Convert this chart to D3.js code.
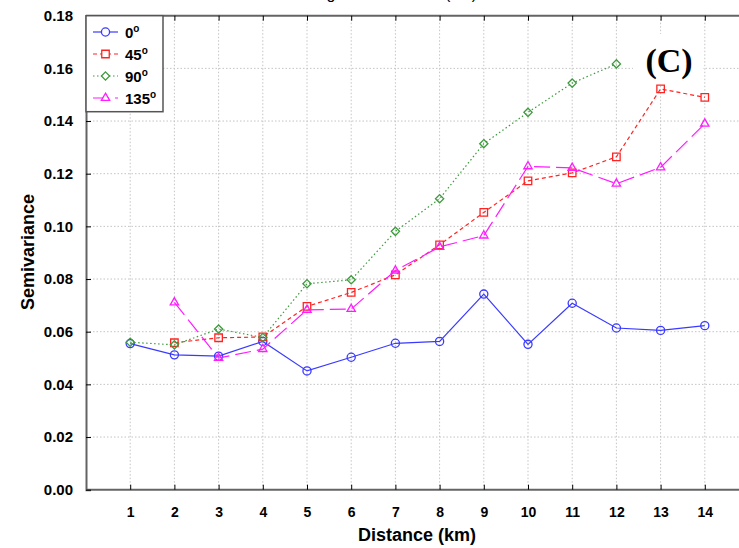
<!DOCTYPE html>
<html>
<head>
<meta charset="utf-8">
<script src="https://d3js.org/d3.v7.min.js"></script>
<style>
  body { margin: 0; background: #fff; }
  svg { display: block; font-family: "Liberation Sans", Arial, sans-serif; }
</style>
</head>
<body>
<div class="canva"></div>
<script>
// lag distances and directional semivariance values
const distance = [1, 2, 3, 4, 5, 6, 7, 8, 9, 10, 11, 12, 13, 14];
const dir0   = [0.0555, 0.0512, 0.0507, 0.0563, 0.0451, 0.0503, 0.0556, 0.0563, 0.0743, 0.0552, 0.0708, 0.0614, 0.0605, 0.0623];
const dir45  = [null, 0.0558, 0.0577, 0.0580, 0.0696, 0.0749, 0.0816, 0.0930, 0.1053, 0.1173, 0.1203, 0.1264, 0.1522, 0.1490];
const dir90  = [0.0560, 0.0550, 0.0610, 0.0578, 0.0782, 0.0797, 0.0981, 0.1105, 0.1314, 0.1433, 0.1544, 0.1617, null, null];
const dir135 = [null, 0.0711, 0.0500, 0.0534, 0.0683, 0.0686, 0.0832, 0.0922, 0.0965, 0.1228, 0.1222, 0.1162, 0.1224, 0.1390];
const seriesNames = ["0", "45", "90", "135"];
const yTicks = [0, 0.02, 0.04, 0.06, 0.08, 0.10, 0.12, 0.14, 0.16, 0.18];

const W = 739, H = 548;
const svg = d3.select(".canva").append("svg")
  .attr("width", W)
  .attr("height", H);

// plot area runs past the right edge of the picture (x domain 0..15)
const x = d3.scaleLinear().domain([0, 15]).range([86, 749]);
const y = d3.scaleLinear().domain([0, 0.18]).range([489.7, 15.7]);

// title, almost entirely cut off at the top (only descenders show)
svg.append("text")
  .attr("x", 477).attr("y", -0.6)
  .attr("text-anchor", "end")
  .attr("font-size", 16)
  .attr("fill", "#000")
  .text("Semivariogram Soil Water (cm)");

// grid
const grid = svg.append("g")
  .attr("stroke", "#c4c4c4")
  .attr("stroke-width", 1)
  .attr("stroke-dasharray", "1.5,2");
grid.selectAll(".vg").data(distance).enter().append("line")
  .attr("x1", d => x(d)).attr("x2", d => x(d))
  .attr("y1", y(0.18)).attr("y2", y(0));
grid.selectAll(".hg").data(yTicks.slice(1, -1)).enter().append("line")
  .attr("x1", x(0)).attr("x2", W)
  .attr("y1", d => y(d)).attr("y2", d => y(d));

// axes with inside ticks
const xAxis = svg.append("g")
  .attr("transform", `translate(0,${y(0)})`)
  .call(d3.axisBottom(x).tickValues(distance).tickSize(-5).tickFormat(d3.format("d")).tickPadding(17));
const xTop = svg.append("g")
  .attr("transform", `translate(0,${y(0.18)})`)
  .call(d3.axisTop(x).tickValues(distance).tickSize(-5).tickFormat(""));
const yAxis = svg.append("g")
  .attr("transform", `translate(${x(0)},0)`)
  .call(d3.axisLeft(y).tickValues(yTicks).tickSize(-5).tickFormat(d3.format(".2f")).tickPadding(13));

[xAxis, xTop, yAxis].forEach(a => {
  a.select(".domain").attr("stroke", "#646464").attr("stroke-width", 2);
  a.selectAll(".tick line").attr("stroke", "#000").attr("stroke-width", 1);
});
xAxis.selectAll(".tick text")
  .attr("font-size", 14).attr("font-weight", "bold").attr("fill", "#000")
  .attr("font-family", "Liberation Sans, Arial, sans-serif");
yAxis.selectAll(".tick text")
  .attr("font-size", 15).attr("font-weight", "bold").attr("fill", "#000")
  .attr("font-family", "Liberation Sans, Arial, sans-serif");
// extend top and bottom frame lines to the canvas edge
xTop.select(".domain").attr("d", `M${x(0)},0H${W}`);
xAxis.select(".domain").attr("d", `M${x(0)},0H${W}`);

// axis titles
svg.append("text")
  .attr("x", 417).attr("y", 541)
  .attr("text-anchor", "middle")
  .attr("font-size", 18).attr("font-weight", "bold")
  .text("Distance (km)");
svg.append("text")
  .attr("transform", "translate(34,252) rotate(-90)")
  .attr("text-anchor", "middle")
  .attr("font-size", 18).attr("font-weight", "bold")
  .text("Semivariance");

// series styles
const diamond = {
  draw(ctx, size) {
    const r = Math.sqrt(size / 2);
    ctx.moveTo(0, -r); ctx.lineTo(r, 0); ctx.lineTo(0, r); ctx.lineTo(-r, 0); ctx.closePath();
  }
};
const styles = [
  { values: dir0,   color: "#3a3aff", dash: null,      symbol: d3.symbolCircle,   size: 52 },
  { values: dir45,  color: "#ff2424", dash: "4,3",     symbol: d3.symbolSquare,   size: 56 },
  { values: dir90,  color: "#3e9a3e", dash: "1.5,2.5", symbol: diamond,           size: 34 },
  { values: dir135, color: "#ff1cff", dash: "16,6",    symbol: d3.symbolTriangle, size: 30 }
];

const line = d3.line()
  .defined(d => d.v !== null)
  .x(d => x(d.d))
  .y(d => y(d.v));

styles.forEach((s, i) => {
  const pts = distance.map((d, j) => ({ d: d, v: s.values[j] }));
  svg.append("path")
    .datum(pts)
    .attr("fill", "none")
    .attr("stroke", s.color)
    .attr("stroke-width", 1.2)
    .attr("stroke-dasharray", s.dash)
    .attr("d", line);
  svg.selectAll(".m" + i)
    .data(pts.filter(p => p.v !== null))
    .enter().append("path")
    .attr("transform", p => `translate(${x(p.d)},${y(p.v)})`)
    .attr("d", d3.symbol().type(s.symbol).size(s.size))
    .attr("fill", "none")
    .attr("stroke", s.color)
    .attr("stroke-width", 1.3);
});

// (C) panel label with white box
svg.append("rect")
  .attr("x", 633).attr("y", 34).attr("width", 70).attr("height", 50)
  .attr("fill", "#fff");
svg.append("text")
  .attr("x", 669).attr("y", 72)
  .attr("text-anchor", "middle")
  .attr("font-family", "Liberation Serif, Times New Roman, serif")
  .attr("font-size", 34).attr("font-weight", "bold")
  .text("(C)");

// legend
const legend = svg.append("g");
legend.append("rect")
  .attr("x", x(0)).attr("y", y(0.18))
  .attr("width", 77).attr("height", 96)
  .attr("fill", "#fff")
  .attr("stroke", "#555").attr("stroke-width", 1.5);
const rowY = [32, 54, 76, 98];
styles.forEach((s, i) => {
  const g = legend.append("g").attr("transform", `translate(0,${rowY[i]})`);
  g.append("line")
    .attr("x1", 93).attr("x2", 118)
    .attr("stroke", s.color).attr("stroke-width", 1.2)
    .attr("stroke-dasharray", s.dash);
  g.append("path")
    .attr("transform", "translate(105.5,0)")
    .attr("d", d3.symbol().type(s.symbol).size(s.size))
    .attr("fill", "#fff")
    .attr("stroke", s.color).attr("stroke-width", 1.3);
  const t = g.append("text")
    .attr("x", 125).attr("y", 5.5)
    .attr("font-size", 15).attr("font-weight", "bold");
  t.append("tspan").text(seriesNames[i]);
  t.append("tspan").attr("dy", -6).attr("font-size", 10).text("o");
});
</script>
</body>
</html>
